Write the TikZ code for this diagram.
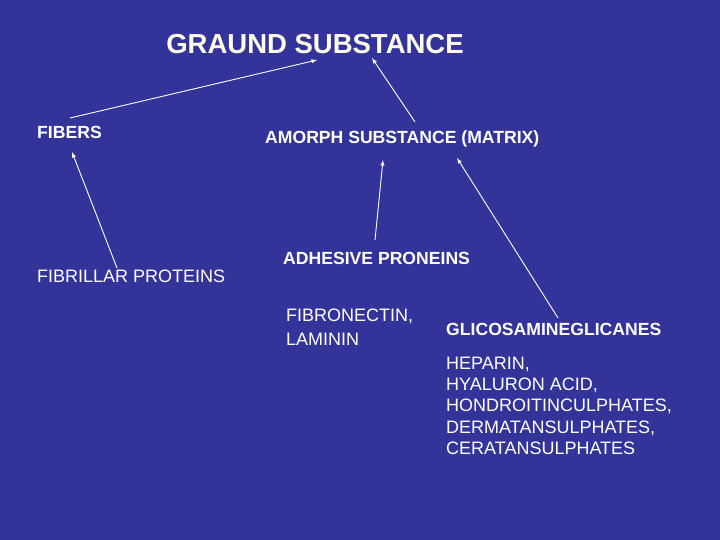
\documentclass[tikz,border=0pt]{standalone}
\usepackage{fontspec}
\setmainfont{Liberation Sans}
\begin{document}
\begin{tikzpicture}[x=1pt,y=-1pt,
  lbl/.style={text=white,inner sep=0pt,anchor=west,font=\fontsize{18}{20}\selectfont},
  blbl/.style={lbl,font=\fontsize{17.6}{20}\selectfont\bfseries},
  arr/.style={draw=white,line width=0.9pt,-latex}]
\fill[fill={rgb,255:red,51;green,51;blue,153}] (0,0) rectangle (720,540);
\useasboundingbox (0,0) rectangle (720,540);
\node[text={rgb,255:red,255;green,255;blue,230},font=\fontsize{27.5}{30}\selectfont\bfseries,inner sep=0pt] (title) at (315,44) {GRAUND SUBSTANCE};
\node[blbl] (fibers) at (37,132) {FIBERS};
\node[blbl] (amorph) at (265,139) {AMORPH SUBSTANCE (MATRIX)};
\node[blbl] (adh) at (283,258) {ADHESIVE PRONEINS};
\node[lbl] (fibr) at (37,276) {FIBRILLAR PROTEINS};
\node[lbl,align=left,font=\fontsize{18}{24}\selectfont] (fn) at (286,327) {FIBRONECTIN,\\LAMININ};
\node[blbl] (glic) at (446,329) {GLICOSAMINEGLICANES};
\node[lbl,align=left,anchor=north west,font=\fontsize{18}{21.2}\selectfont] (hep) at (446,357) {HEPARIN,\\HYALURON ACID,\\HONDROITINCULPHATES,\\DERMATANSULPHATES,\\CERATANSULPHATES};
\coordinate (t1) at (317,60); \coordinate (t2) at (372,58);
\coordinate (f1) at (70,118); \coordinate (f2) at (72,152);
\coordinate (a1) at (415,122); \coordinate (a2) at (383,160); \coordinate (a3) at (457,158);
\coordinate (p1) at (117,268); \coordinate (d1) at (375,240); \coordinate (g1) at (558,318);
\draw[arr] (f1) -- (t1);
\draw[arr] (a1) -- (t2);
\draw[arr] (p1) -- (f2);
\draw[arr] (d1) -- (a2);
\draw[arr] (g1) -- (a3);
\end{tikzpicture}
\end{document}
